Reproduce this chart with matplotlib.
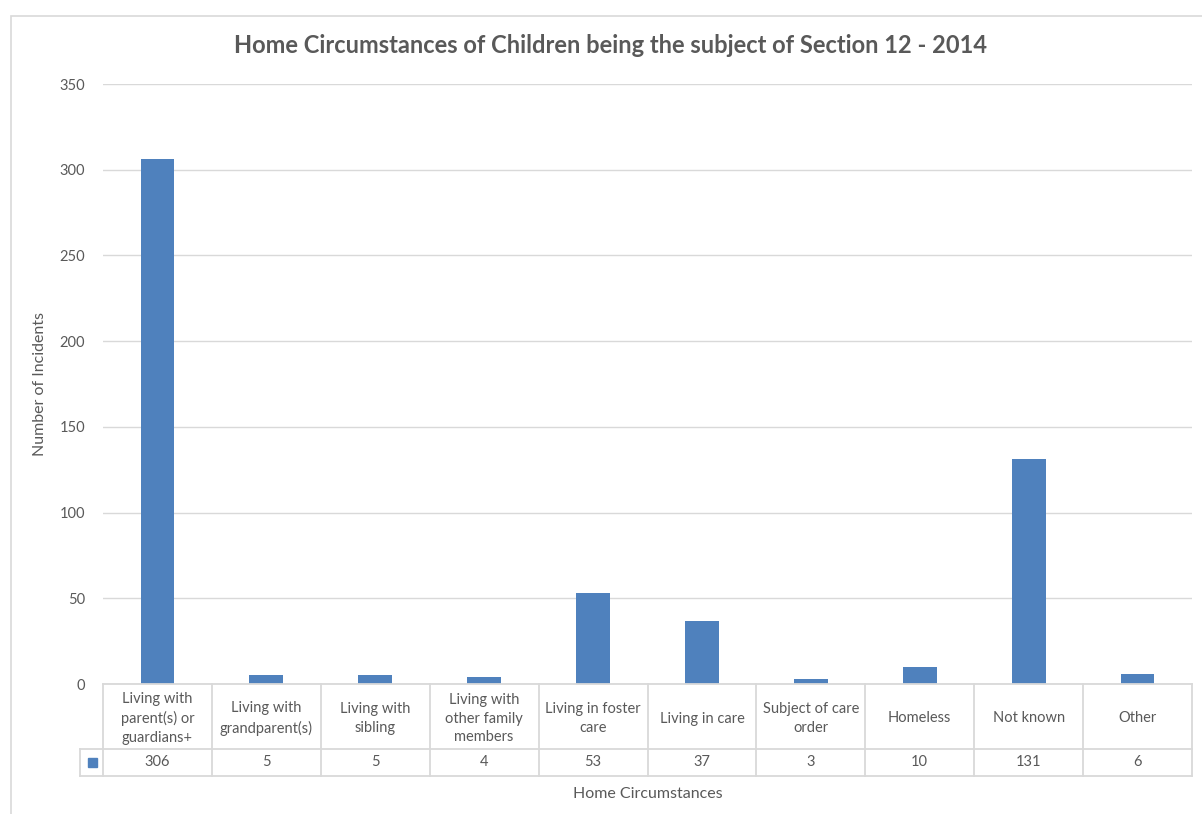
import matplotlib.pyplot as plt
from matplotlib.patches import Rectangle
from matplotlib.transforms import blended_transform_factory

categories = ['Living with\nparent(s) or\nguardians+', 'Living with\ngrandparent(s)', 'Living with\nsibling',
              'Living with\nother family\nmembers', 'Living in foster\ncare', 'Living in care',
              'Subject of care\norder', 'Homeless', 'Not known', 'Other']
values = [306, 5, 5, 4, 53, 37, 3, 10, 131, 6]
yticks = [0, 50, 100, 150, 200, 250, 300, 350]

plt.rcParams['font.family'] = ['Lato', 'DejaVu Sans']
txt = '#595959'
grid = '#d9d9d9'
blue = '#4f81bd'

fig = plt.figure(figsize=(12.02, 8.14), dpi=100)
ax = fig.add_axes([103 / 1202, 1 - 684 / 814, 1089 / 1202, 600 / 814])

x = list(range(len(values)))
ax.bar(x, values, width=0.31, color=blue, zorder=3)
ax.set_xlim(-0.5, len(values) - 0.5)
ax.set_ylim(0, 350)
ax.set_yticks(yticks)
ax.set_yticklabels([str(t) for t in yticks], color=txt, fontsize=10.5)
ax.tick_params(axis='y', length=0, pad=13)
ax.set_xticks([])
ax.grid(axis='y', color=grid, linewidth=1, zorder=0)
for s in ax.spines.values():
    s.set_visible(False)

# data table under the plot
tr = blended_transform_factory(ax.transData, ax.transAxes)
ppu = 1089 / len(values)
y_head = -65 / 600
y_bot = -92 / 600
x_key = -0.5 - 23 / ppu
kw = dict(color=grid, linewidth=1.3, transform=tr, clip_on=False, zorder=4)
ax.plot([-0.5, len(values) - 0.5], [0, 0], **kw)
ax.plot([x_key, len(values) - 0.5], [y_head, y_head], **kw)
ax.plot([x_key, len(values) - 0.5], [y_bot, y_bot], **kw)
ax.plot([x_key, x_key], [y_head, y_bot], **kw)
for i in range(len(values) + 1):
    ax.plot([i - 0.5, i - 0.5], [0, y_bot], **kw)
for i, (c, v) in enumerate(zip(categories, values)):
    ax.text(i, y_head / 2 - 2 / 600, c, transform=tr, ha='center', va='center', color=txt,
            fontsize=10.5, linespacing=1.45)
    ax.text(i, (y_head + y_bot) / 2, str(v), transform=tr, ha='center', va='center',
            color=txt, fontsize=10.5)
key_x = x_key + 8 / ppu
ax.add_patch(Rectangle((key_x, (y_head + y_bot) / 2 - 4.5 / 600), 9 / ppu, 9 / 600,
                       transform=tr, color=blue, clip_on=False))

ax.set_title('Home Circumstances of Children being the subject of Section 12 - 2014',
             color=txt, fontsize=17, fontweight='bold', pad=22, x=(611 - 103) / 1089)
ax.set_ylabel('Number of Incidents', color=txt, fontsize=11.5, labelpad=9)
fig.text(648 / 1202, 1 - 794 / 814, 'Home Circumstances', ha='center', va='center',
         color=txt, fontsize=11.5)

fig.patches.append(Rectangle((11 / 1202, -0.05), 1.1, 1.05 - 16 / 814, transform=fig.transFigure,
                             fill=False, edgecolor=grid, linewidth=1.2))

fig.savefig('out.png', dpi=100)
